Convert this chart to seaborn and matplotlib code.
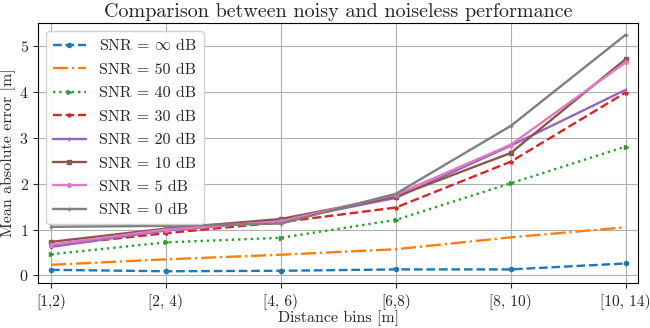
import matplotlib
matplotlib.use("Agg")
import matplotlib.pyplot as plt
import seaborn as sns
import pandas as pd

# Data
bins = ["[1,2)", "[2, 4)", "[4, 6)", "[6,8)", "[8, 10)", "[10, 14)"]
snr_labels = [r"SNR = $\infty$ dB", "SNR = 50 dB", "SNR = 40 dB", "SNR = 30 dB",
              "SNR = 20 dB", "SNR = 10 dB", "SNR = 5 dB", "SNR = 0 dB"]
mae_inf = [0.12, 0.09, 0.10, 0.13, 0.13, 0.26]
mae_50 = [0.23, 0.35, 0.45, 0.57, 0.83, 1.05]
mae_40 = [0.46, 0.72, 0.82, 1.21, 2.01, 2.81]
mae_30 = [0.65, 0.92, 1.16, 1.48, 2.48, 3.99]
mae_20 = [0.62, 0.98, 1.19, 1.69, 2.83, 4.05]
mae_10 = [0.73, 1.02, 1.23, 1.72, 2.67, 4.72]
mae_5 = [0.67, 1.00, 1.18, 1.76, 2.85, 4.65]
mae_0 = [1.06, 1.08, 1.13, 1.78, 3.26, 5.25]

series = [mae_inf, mae_50, mae_40, mae_30, mae_20, mae_10, mae_5, mae_0]

# Styles
sns.set_style("ticks", {"axes.grid": True, "grid.color": "#b0b0b0"})
plt.rcParams["font.family"] = "serif"
plt.rcParams["font.serif"] = ["cmr10"]
plt.rcParams["mathtext.fontset"] = "cm"
plt.rcParams["axes.formatter.use_mathtext"] = True
plt.rcParams["axes.unicode_minus"] = False

colours = sns.color_palette("tab10", 8)
linestyles = ["--", "-.", ":", "--", "-", "-", "-", "-"]
markers = ["o", "", ">", "*", "|", "s", "p", "+"]

fig = plt.figure(figsize=(6.5, 3.28), dpi=100)
ax = fig.add_axes([0.059, 0.137, 0.923, 0.793])

for i, vals in enumerate(series):
    df = pd.DataFrame({"bin": range(len(bins)), "mae": vals})
    sns.lineplot(data=df, x="bin", y="mae", ax=ax, color=colours[i],
                 linestyle=linestyles[i], marker=markers[i] if markers[i] else None,
                 markersize=3, markeredgewidth=1, markeredgecolor=colours[i],
                 linewidth=1.7, label=snr_labels[i])

ax.set_xticks(range(len(bins)))
ax.set_xticklabels(bins, fontsize=11)
ax.tick_params(axis="y", labelsize=11.5)
ax.set_xlim(-0.11, 5.11)
ax.set_xlabel("Distance bins [m]", fontsize=11.5, labelpad=1)
ax.set_ylabel("Mean absolute error [m]", fontsize=11.5, labelpad=2)
ax.set_title("Comparison between noisy and noiseless performance", fontsize=14.5, pad=4)
for s in ax.spines.values():
    s.set_color("black")
ax.grid(True, color="#b0b0b0", linewidth=0.8)

ax.legend(loc="upper left", fontsize=11.5, frameon=True, labelspacing=0.58,
          handlelength=2.1, borderaxespad=0.5, framealpha=0.9)

fig.savefig("out.png", dpi=100)
